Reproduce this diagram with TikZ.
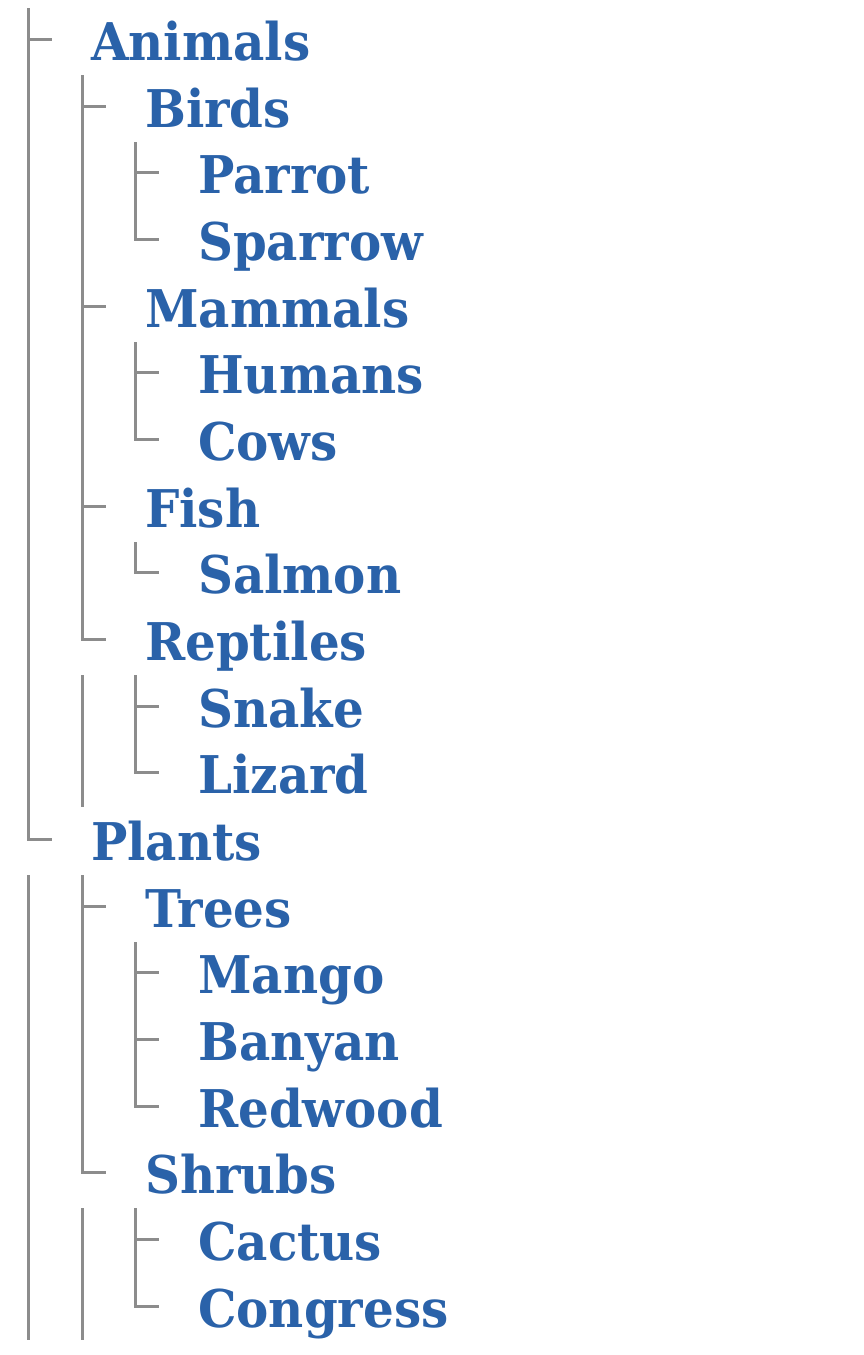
\documentclass[tikz,border=0pt]{standalone}
\usepackage{fontspec}
\newfontfamily\treefont{DejaVu Serif}[FakeStretch=0.93]
\definecolor{treeblue}{HTML}{2A62A9}
\definecolor{treegray}{HTML}{8C8C8C}
\tikzset{
  lbl/.style={anchor=base west, inner sep=0pt, text=treeblue,
    font=\treefont\bfseries\fontsize{52}{60}\selectfont},
  conn/.style={draw=treegray, line width=3pt, line join=miter}
}
\newcommand\treerow[4]{%
  \coordinate (#1-t) at (#2,#3);
  \coordinate (#1-e) at (#2+24,#3);
  \node[lbl] (#1) at (#2+63,#3+21) {#4};
}
\begin{document}
\begin{tikzpicture}[x=1pt,y=-1pt]
\useasboundingbox (0,0) rectangle (863,1355);
% rows: name, line x, tick y, text
\treerow{animals}{28}{39.5}{Animals}
\treerow{birds}{82}{106.2}{Birds}
\treerow{parrot}{135}{172.8}{Parrot}
\treerow{sparrow}{135}{239.5}{Sparrow}
\treerow{mammals}{82}{306.1}{Mammals}
\treerow{humans}{135}{372.8}{Humans}
\treerow{cows}{135}{439.5}{Cows}
\treerow{fish}{82}{506.1}{Fish}
\treerow{salmon}{135}{572.8}{Salmon}
\treerow{reptiles}{82}{639.4}{Reptiles}
\treerow{snake}{135}{706.1}{Snake}
\treerow{lizard}{135}{772.8}{Lizard}
\treerow{plants}{28}{839.4}{Plants}
\treerow{trees}{82}{906.1}{Trees}
\treerow{mango}{135}{972.7}{Mango}
\treerow{banyan}{135}{1039.4}{Banyan}
\treerow{redwood}{135}{1106.1}{Redwood}
\treerow{shrubs}{82}{1172.7}{Shrubs}
\treerow{cactus}{135}{1239.4}{Cactus}
\treerow{congress}{135}{1306.0}{Congress}
% tops and free ends of vertical lines
\coordinate (root-top) at (28,8);
\coordinate (animals-top) at (82,75);
\coordinate (birds-top) at (135,142);
\coordinate (mammals-top) at (135,342);
\coordinate (fish-top) at (135,542);
\coordinate (reptiles-top) at (135,675);
\coordinate (reptiles-xtop) at (82,675);
\coordinate (reptiles-xend) at (82,807);
\coordinate (plants-top) at (82,875);
\coordinate (plants-xtop) at (28,875);
\coordinate (plants-xend) at (28,1340);
\coordinate (trees-top) at (135,942);
\coordinate (shrubs-top) at (135,1208);
\coordinate (shrubs-xtop) at (82,1208);
\coordinate (shrubs-xend) at (82,1340);
% level 0
\draw[conn] (root-top) -- (plants-t) -- (plants-e);
\draw[conn] (animals-t) -- (animals-e);
\draw[conn] (plants-xtop) -- (plants-xend);
% animals children
\draw[conn] (animals-top) -- (reptiles-t) -- (reptiles-e);
\draw[conn] (birds-t) -- (birds-e);
\draw[conn] (mammals-t) -- (mammals-e);
\draw[conn] (fish-t) -- (fish-e);
\draw[conn] (birds-top) -- (sparrow-t) -- (sparrow-e);
\draw[conn] (parrot-t) -- (parrot-e);
\draw[conn] (mammals-top) -- (cows-t) -- (cows-e);
\draw[conn] (humans-t) -- (humans-e);
\draw[conn] (fish-top) -- (salmon-t) -- (salmon-e);
\draw[conn] (reptiles-xtop) -- (reptiles-xend);
\draw[conn] (reptiles-top) -- (lizard-t) -- (lizard-e);
\draw[conn] (snake-t) -- (snake-e);
% plants children
\draw[conn] (plants-top) -- (shrubs-t) -- (shrubs-e);
\draw[conn] (trees-t) -- (trees-e);
\draw[conn] (trees-top) -- (redwood-t) -- (redwood-e);
\draw[conn] (mango-t) -- (mango-e);
\draw[conn] (banyan-t) -- (banyan-e);
\draw[conn] (shrubs-xtop) -- (shrubs-xend);
\draw[conn] (shrubs-top) -- (congress-t) -- (congress-e);
\draw[conn] (cactus-t) -- (cactus-e);
\end{tikzpicture}
\end{document}
